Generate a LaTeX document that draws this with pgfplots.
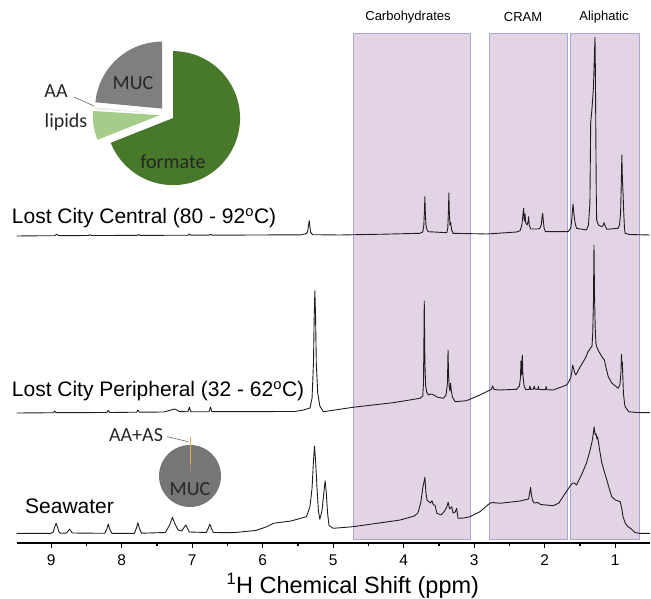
\documentclass[border=0pt]{standalone}
\usepackage{fontspec}
\setmainfont{Liberation Sans}
\newfontfamily\calib{Carlito}
\usepackage{pgfplots}
\pgfplotsset{compat=1.18}
\definecolor{spec}{RGB}{32,28,30}
\definecolor{boxfill}{RGB}{227,212,229}
\definecolor{boxedge}{RGB}{168,164,214}
\definecolor{formate}{RGB}{72,121,42}
\definecolor{lipids}{RGB}{166,204,138}
\definecolor{mucgray}{RGB}{127,127,127}
\definecolor{mucgray2}{RGB}{118,118,118}
\definecolor{aaorange}{RGB}{232,176,70}
\begin{document}
\begin{tikzpicture}[x=1pt,y=1pt]
\begin{axis}[
  at={(16.6pt,55pt)}, anchor=south west,
  scale only axis, width=633.4pt, height=543pt,
  x dir=reverse, xmin=0.508, xmax=9.49, ymin=0, ymax=543,
  axis x line*=bottom, axis y line=none,
  xtick={1,2,3,4,5,6,7,8,9}, minor x tick num=1,
  tick align=outside, major tick length=5pt, minor tick length=3pt,
  x axis line style={line width=1.3pt},
  tick style={line width=1.2pt, black},
  /pgf/number format/assume math mode=true,
  xticklabel style={font=\fontsize{15.5}{15.5}\selectfont, yshift=-3pt},
  xlabel={\textsuperscript{1}H Chemical Shift (ppm)},
  xlabel style={font=\fontsize{23.5}{23.5}\selectfont, at={(axis description cs:0.5,0)}, anchor=center, yshift=-43pt, xshift=19.5pt},
  clip=false,
]
% shaded regions
\addplot[fill=boxfill, draw=boxedge, line width=0.8pt] coordinates {(4.716,3.7) (3.06,3.7) (3.06,509.7) (4.716,509.7)} -- cycle;
\addplot[fill=boxfill, draw=boxedge, line width=0.8pt] coordinates {(2.79,3.7) (1.68,3.7) (1.68,509.7) (2.79,509.7)} -- cycle;
\addplot[fill=boxfill, draw=boxedge, line width=0.8pt] coordinates {(1.64,3.7) (0.66,3.7) (0.66,509.7) (1.64,509.7)} -- cycle;
% Lost City Central
\addplot[spec, line width=0.9pt, line join=round] coordinates {
(9.49,307) (9.20,307.2) (8.95,307.3) (8.92,308.8) (8.89,307.3) (8.47,307.5) (8.45,308.3) (8.43,307.5) (7.78,307.6) (7.76,308.4) (7.74,307.6) (7.06,307.8) (7.04,309) (7.02,307.8) (6.76,307.8) (6.74,308.8) (6.72,307.8) (5.45,308.2) (5.38,309.5) (5.36,312) (5.35,318) (5.34,322.3) (5.33,316) (5.32,310.5) (5.29,308.3) (4.90,308) (4.30,308.8) (3.77,309.7) (3.73,311) (3.715,318) (3.705,335) (3.70,346.3) (3.695,332) (3.685,318) (3.67,313) (3.65,311.3) (3.39,310.3) (3.375,315) (3.365,335) (3.36,350) (3.355,333) (3.345,318) (3.335,321) (3.33,318) (3.32,313) (3.30,309.7) (2.82,309) (2.40,311) (2.35,312.3) (2.325,318) (2.31,328) (2.30,334.7) (2.29,322) (2.28,329) (2.27,320) (2.25,318) (2.235,322) (2.23,326.3) (2.22,318) (2.20,314) (2.10,314) (2.07,314.7) (2.05,318) (2.04,325) (2.03,329.7) (2.02,322) (2.01,315) (1.99,311.3) (1.67,311.3) (1.63,315) (1.615,325) (1.60,339) (1.585,328) (1.57,320) (1.55,314.7) (1.41,313) (1.38,318) (1.36,340) (1.349,420) (1.33,435) (1.31,455) (1.295,490) (1.288,505.7) (1.282,470) (1.277,420) (1.27,350) (1.264,323) (1.24,318) (1.19,316.3) (1.17,318) (1.16,320.3) (1.15,318) (1.12,313.7) (0.96,314.7) (0.94,318) (0.925,330) (0.915,360) (0.907,388) (0.90,366) (0.895,356.3) (0.89,350) (0.88,330) (0.87,315) (0.86,309.7) (0.80,308.5) (0.51,308)
};
% Lost City Peripheral
\addplot[spec, line width=0.9pt, line join=round] coordinates {
(9.49,130) (9.10,130.2) (8.97,130.3) (8.95,132) (8.93,130.3) (8.21,130.5) (8.19,132.5) (8.17,130.5) (7.79,130.8) (7.77,133) (7.75,130.8) (7.40,131) (7.30,133) (7.25,134) (7.18,131.5) (7.06,131.2) (7.04,136) (7.02,131.2) (6.76,131.3) (6.74,136) (6.72,131.3) (5.55,131.5) (5.42,133) (5.33,135) (5.30,145) (5.28,180) (5.27,225) (5.26,252.3) (5.25,225) (5.24,180) (5.22,150) (5.19,137) (5.14,131.3) (4.72,135.7) (4.15,140.3) (3.77,144.7) (3.73,147) (3.72,160) (3.712,215) (3.709,242) (3.705,215) (3.70,180) (3.69,158) (3.675,151) (3.65,148) (3.62,149) (3.59,148.5) (3.56,147.5) (3.53,146) (3.44,144.7) (3.40,148) (3.38,160) (3.372,193) (3.365,170) (3.355,156) (3.345,152) (3.335,159.7) (3.325,152) (3.31,146) (3.27,141.3) (3.11,142.3) (2.92,148) (2.76,153.5) (2.74,157) (2.72,153.5) (2.64,153) (2.40,153.7) (2.36,157) (2.345,165) (2.338,182) (2.33,168) (2.319,188) (2.31,167) (2.29,156) (2.27,153.5) (2.22,153.5) (2.21,157) (2.20,153.5) (2.16,154) (2.15,157) (2.14,154) (2.10,153.5) (2.09,156.5) (2.08,153.5) (1.99,153.3) (1.98,156.5) (1.97,153.3) (1.88,153) (1.69,158) (1.66,161) (1.63,166) (1.615,172) (1.604,178) (1.59,174) (1.575,170) (1.56,168) (1.50,176) (1.44,183) (1.41,187) (1.39,191) (1.35,195) (1.33,197) (1.32,210) (1.31,240) (1.302,298) (1.295,250) (1.285,215) (1.275,200) (1.265,196.3) (1.23,191) (1.19,186.3) (1.155,183) (1.13,175) (1.10,166.3) (1.05,160) (0.96,154.7) (0.935,158) (0.92,170) (0.912,188.7) (0.906,178) (0.90,181) (0.895,170) (0.885,150) (0.87,140) (0.86,136.3) (0.81,131.3) (0.70,130.5) (0.51,130.3)
};
% Seawater
\addplot[spec, line width=0.9pt, line join=round] coordinates {
(9.49,9.7) (9.00,9.7) (8.97,11) (8.95,16) (8.93,19.7) (8.91,16) (8.89,11) (8.86,9.7) (8.78,10) (8.75,13) (8.74,14) (8.72,12) (8.70,10) (8.24,9.7) (8.21,14) (8.19,19) (8.17,14) (8.14,9.7) (7.82,9.7) (7.79,15) (7.77,20.3) (7.75,15) (7.72,9.8) (7.38,10.5) (7.32,18) (7.28,25.7) (7.25,20) (7.20,13) (7.15,12) (7.11,16) (7.09,18) (7.07,15) (7.04,11) (6.80,10.5) (6.77,15) (6.75,19) (6.73,15) (6.70,10.5) (6.42,10.3) (6.10,12.5) (5.94,16.3) (5.88,18.5) (5.85,19.7) (5.60,22) (5.38,26.3) (5.33,36.3) (5.30,55) (5.28,82) (5.265,97) (5.25,82) (5.23,55) (5.21,32) (5.19,23.7) (5.16,32) (5.13,52) (5.115,62.3) (5.10,52) (5.08,30) (5.06,17.5) (5.00,14.7) (4.72,16.3) (4.38,19.7) (4.05,23) (3.85,27) (3.80,30) (3.76,39.7) (3.73,55) (3.70,65.7) (3.685,50) (3.67,43) (3.64,41) (3.62,40) (3.60,42.3) (3.58,38) (3.557,38) (3.53,29.7) (3.47,28) (3.42,32) (3.39,36) (3.37,40.7) (3.35,34) (3.32,36.3) (3.30,30) (3.27,31) (3.25,34.7) (3.23,24.7) (3.15,25) (3.06,26.3) (2.92,31.3) (2.78,39.7) (2.74,40.5) (2.64,39.7) (2.35,42) (2.23,44) (2.21,52) (2.20,55.7) (2.19,48) (2.17,42) (2.15,40) (2.10,40.5) (2.06,38.5) (1.88,37.3) (1.80,40) (1.71,49.7) (1.64,57) (1.61,59.7) (1.58,60) (1.55,58) (1.48,68) (1.41,79.7) (1.36,92) (1.33,101.3) (1.31,110) (1.30,116.3) (1.29,110) (1.28,108) (1.27,109) (1.26,104) (1.25,106) (1.22,92) (1.19,79.7) (1.15,70) (1.12,63) (1.08,53) (1.05,46.3) (1.00,43) (0.93,41.3) (0.91,35) (0.89,26.3) (0.86,20) (0.82,16.3) (0.79,15) (0.76,13) (0.72,10.5) (0.66,9.7) (0.51,9.7)
};
\end{axis}
% region labels
\node[font=\fontsize{13}{13}\selectfont] at (408,581) {Carbohydrates};
\node[font=\fontsize{13}{13}\selectfont] at (523,581) {CRAM};
\node[font=\fontsize{13}{13}\selectfont] at (604,581) {Aliphatic};
% trace labels
\node[anchor=west, inner sep=0pt, font=\fontsize{21}{21}\selectfont] at (11.7,379.7) {Lost City Central (80 - 92\textsuperscript{o}C)};
\node[anchor=west, inner sep=0pt, font=\fontsize{21}{21}\selectfont] at (11.7,207) {Lost City Peripheral (32 - 62\textsuperscript{o}C)};
\node[anchor=west, inner sep=0pt, font=\fontsize{21}{21}\selectfont] at (25,92) {Seawater};
% top pie (Lost City Central): formate 69, lipids 7, AA 0.5, MUC 23.5 (%)
\def\pMUC{23.5}\def\pAA{0.5}\def\pLip{7}\def\pFor{69}
\pgfmathsetmacro\aA{90}
\pgfmathsetmacro\aB{90+3.6*\pMUC}
\pgfmathsetmacro\aC{\aB+3.6*\pAA}
\pgfmathsetmacro\aD{\aC+3.6*\pLip}
\pgfmathsetmacro\aE{\aD+3.6*\pFor}
\begin{scope}[shift={(167,484)}]
  \fill[mucgray, shift={({(\aA+\aB)/2}:7.3)}] (0,0) -- (\aA:67) arc[start angle=\aA, end angle=\aB, radius=67] -- cycle;
  \fill[black!8, shift={({(\aB+\aC)/2}:5)}] (0,0) -- (\aB:67) arc[start angle=\aB, end angle=\aC, radius=67] -- cycle;
  \fill[lipids, shift={({(\aC+\aD)/2}:7.3)}] (0,0) -- (\aC:67) arc[start angle=\aC, end angle=\aD, radius=67] -- cycle;
  \fill[formate, shift={({(\aD+\aE)/2}:7.3)}] (0,0) -- (\aD:67) arc[start angle=\aD, end angle=\aE, radius=67] -- cycle;
\end{scope}
\node[font=\calib\fontsize{20}{20}\selectfont, text=black!85] at (133,515) {MUC};
\node[font=\calib\fontsize{20}{20}\selectfont, text=black!85] at (173,436) {formate};
\node[font=\calib\fontsize{20}{20}\selectfont, text=black!85] at (56,507) {AA};
\node[font=\calib\fontsize{20}{20}\selectfont, text=black!85] at (66,476) {lipids};
\draw[black!60, line width=0.6pt] (74,501) -- (94,492);
% seawater pie: MUC 99.6, AA+AS 0.4 (%)
\begin{scope}[shift={(190,122)}]
  \fill[mucgray2] (0,0) circle[radius=31];
  \draw[aaorange, line width=0.9pt] (0,12) -- (0,39);
  \draw[aaorange!40!mucgray2, line width=0.9pt] (0,4) -- (0,12);
\end{scope}
\node[font=\calib\fontsize{20}{20}\selectfont, text=black!85] at (190,109) {MUC};
\node[font=\calib\fontsize{20}{20}\selectfont, text=black!85] at (136,163) {AA+AS};
\draw[black!60, line width=0.6pt] (167.3,161.3) -- (188.3,156.3);
\pgfresetboundingbox
\useasboundingbox (0,0) rectangle (651,598);
\end{tikzpicture}
\end{document}
